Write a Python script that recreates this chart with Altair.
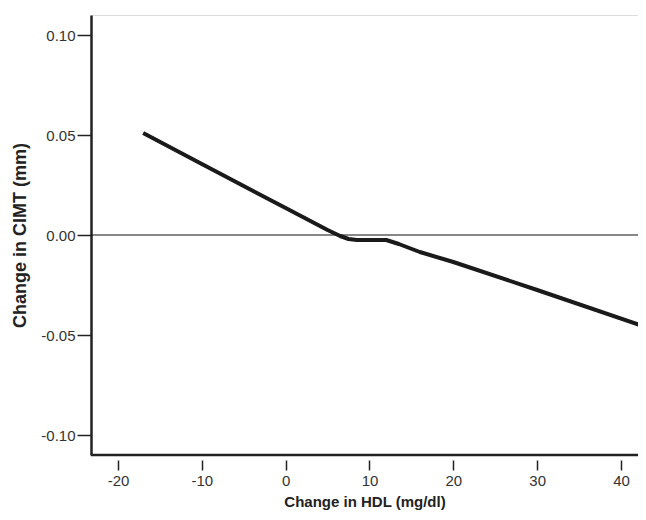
import altair as alt
import pandas as pd

hdl_change = [-17, -10, 0, 5, 6.5, 7.5, 8.5, 12, 13.5, 16, 20, 30, 42.6]
cimt_change = [0.051, 0.0355, 0.0135, 0.0025, -0.0005, -0.002, -0.0025, -0.0025, -0.0045, -0.0085, -0.0135, -0.0275, -0.0455]

x_ticks = [-20, -10, 0, 10, 20, 30, 40]
y_ticks = [-0.10, -0.05, 0.00, 0.05, 0.10]

df = pd.DataFrame({"hdl": hdl_change, "cimt": cimt_change})

xs = alt.Scale(domain=[-23.22, 42.03], nice=False, zero=False)
ys = alt.Scale(domain=[-0.11, 0.11], nice=False, zero=False)

font = "Liberation Sans"
minus_fix = "replace(datum.label, '\u2212', '-')"

line = alt.Chart(df).mark_line(color="#1a1a1a", strokeWidth=4, strokeCap="butt", strokeJoin="round", clip=True).encode(
    x=alt.X("hdl:Q", scale=xs, title="Change in HDL (mg/dl)",
            axis=alt.Axis(values=x_ticks, domain=False, offset=5, tickSize=10, tickWidth=1.5,
                          tickColor="#222", labelPadding=3, labelFontSize=15, labelColor="#333",
                          labelFont=font, titleFont=font, titleFontSize=15, titleFontWeight="bold",
                          titleColor="#222", titlePadding=6, grid=False, format="d",
                          labelExpr=minus_fix)),
    y=alt.Y("cimt:Q", scale=ys, title="Change in CIMT (mm)",
            axis=alt.Axis(values=y_ticks, domain=True, domainWidth=2.5, domainColor="#222",
                          tickSize=14, tickWidth=1.5, tickColor="#222", labelPadding=2,
                          labelFontSize=15, labelColor="#333", labelFont=font, titleFont=font,
                          titleFontSize=18, titleFontWeight="bold", titleColor="#222",
                          titlePadding=11, grid=False, format=".2f", labelExpr=minus_fix)),
)

zero_rule = alt.Chart(pd.DataFrame({"y": [0.0]})).mark_rule(color="#111", strokeWidth=1).encode(
    y=alt.Y("y:Q", scale=ys)
)

bottom_rule = alt.Chart(pd.DataFrame({"y": [-0.11]})).mark_rule(color="#222", strokeWidth=2.5).encode(
    y=alt.Y("y:Q", scale=ys)
)

chart = alt.layer(zero_rule, bottom_rule, line).properties(
    width=547, height=440,
    autosize=alt.AutoSizeParams(type="none"),
    padding={"left": 83, "top": 7, "right": 0, "bottom": 57},
).configure_view(stroke=None).configure(background="white")

chart.save("out.html", embed_options={"renderer": "svg", "actions": False})
